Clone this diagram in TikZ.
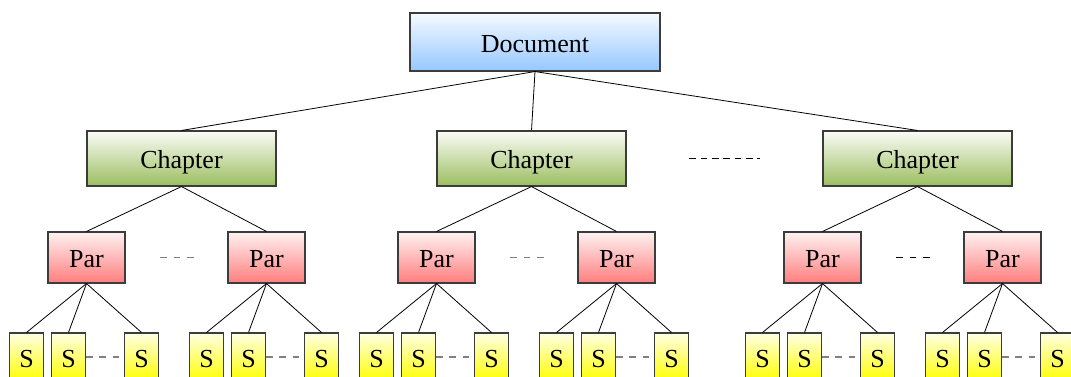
\documentclass[tikz,border=0pt]{standalone}
\usepackage{fontspec}
\setmainfont{Liberation Serif}

\definecolor{docblue}{RGB}{150,200,255}
\definecolor{chapgreen}{RGB}{155,190,95}
\definecolor{parred}{RGB}{255,125,125}
\definecolor{sentyellow}{RGB}{255,255,0}
\definecolor{boxedge}{RGB}{60,60,60}

\tikzset{
  box/.style={draw=boxedge, line width=0.8pt, rectangle, inner sep=0pt,
    text height=15pt, text depth=0pt,
    font=\fontsize{19.5}{22}\selectfont},
  docbox/.style={box, minimum width=187.5pt, minimum height=43.5pt,
    top color=white!90!docblue, bottom color=docblue},
  chapbox/.style={box, minimum width=141.75pt, minimum height=41.25pt,
    top color=white!95!chapgreen, bottom color=chapgreen},
  parbox/.style={box, minimum width=57.75pt, minimum height=38.25pt,
    top color=white!90!parred, bottom color=parred},
  sbox/.style={box, minimum width=25.5pt, minimum height=36pt,
    top color=white!90!sentyellow, bottom color=sentyellow},
  link/.style={line width=0.6pt, black},
  gap/.style={line width=1pt, gray, dash pattern=on 5pt off 5pt},
}

\begin{document}
\begin{tikzpicture}[x=0.75pt,y=0.75pt,yscale=-1,xscale=1]
        \useasboundingbox (0,0) rectangle (1071,376);
        \clip (0,0) rectangle (1071,376);

        % top level
        \node [docbox] (doc) at (535,42) {Document};

        % chapters, each with two paragraphs of three sentences
        \foreach \c/\cx/\pdash in {1/181.5/gray, 2/531.5/gray, 3/917.5/black} {
            \node [chapbox] (ch\c) at (\cx,158.5) {Chapter};
            \draw [link] (doc.south) -- (ch\c.north);
            \foreach \p/\dx in {1/-95, 2/85} {
                \node [parbox] (par\c\p) at (\cx+\dx,257.5) {Par};
                \draw [link] (ch\c.south) -- (par\c\p.north);
                \foreach \s/\sx in {1/-60, 2/-18, 3/55} {
                    \node [sbox] (s\c\p\s) at (\cx+\dx+\sx,357) {S};
                    \draw [link] (par\c\p.south) -- (s\c\p\s.north);
                }
                % skipped sentences
                \draw [gap] (s\c\p2.east) -- (s\c\p3.west);
            }
            % skipped paragraphs
            \draw [gap, \pdash] ([xshift=26pt]par\c1.east) -- ([xshift=-25pt]par\c2.west);
        }

        % skipped chapters
        \draw [line width=0.8pt, dash pattern=on 5pt off 3.5pt] ([xshift=47pt]ch2.east) -- ([xshift=-47pt]ch3.west);

\end{tikzpicture}
\end{document}
